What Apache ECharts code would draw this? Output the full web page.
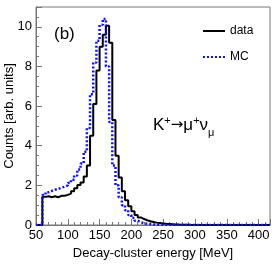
<!DOCTYPE html>
<html><head><meta charset="utf-8">
<script src="https://cdn.jsdelivr.net/npm/echarts@6/dist/echarts.min.js"></script>
<style>html,body{margin:0;padding:0;background:#fff}#c{width:279px;height:265px}</style>
</head><body><div id="c"></div>
<script>
// Histogram bins: lower edges start at 50 MeV, width 5 MeV
const binStart = 50;
const binWidth = 5;
const dataValues = [0,0,1.42,1.45,1.40,1.45,1.40,1.47,1.48,1.52,1.58,1.70,1.85,2.02,2.15,2.45,3.0,4.5,6.1,7.8,9.0,9.6,10.05,9.2,5.3,3.5,2.4,1.7,1.25,0.95,0.7,0.5,0.38,0.3,0.24,0.19,0.15,0.12,0.1,0.08,0.06,0.05,0.04,0.03,0.02,0.015,0.01,0.01,0.005,0.005];
const mcValues = [0,0,1.52,1.65,1.72,1.78,1.82,1.88,1.93,2.0,2.12,2.28,2.5,2.8,3.1,3.7,4.9,6.6,8.2,9.3,10.1,10.4,8.0,5.2,3.0,2.0,1.4,1.0,0.75,0.5,0.35,0.22,0.14,0.09,0.06,0.04,0.03,0.02,0.015,0.01,0.005,0,0,0,0,0,0,0,0,0];
const xMin = 50, xMax = 418, xStep = 50;
const yMin = 0, yMax = 11, yStep = 2;
const seriesNames = ['data','MC'];
const yTitle = 'Counts [arb. units]';

function toPairs(vals){
  const out = vals.map((v,i)=>[binStart + i*binWidth, v]);
  out.push([binStart + vals.length*binWidth, 0]);
  out.push([xMax, 0]);
  return out;
}
const FONT = 'Liberation Sans, Arial, sans-serif';
const chart = echarts.init(document.getElementById('c'), null, {renderer:'canvas'});
chart.setOption({
  animation:false,
  grid:{left:36,right:9,top:7,bottom:40,show:true,borderColor:'#777',borderWidth:1,containLabel:false,outerBoundsMode:'none'},
  legend:{
    orient:'vertical', left:197, top:20, itemWidth:22, itemHeight:14, itemGap:14,
    textStyle:{fontFamily:FONT,fontSize:12,color:'#000'},
    itemStyle:{opacity:0},
    data:seriesNames
  },
  xAxis:{
    type:'value', min:xMin, max:xMax, interval:xStep,
    name:'Decay-cluster energy [MeV]', nameLocation:'middle', nameGap:17,
    nameTextStyle:{fontFamily:FONT,fontSize:13,color:'#000'},
    axisLine:{lineStyle:{color:'#777'}},
    axisTick:{inside:true,length:6,lineStyle:{color:'#777'}},
    minorTick:{show:true,splitNumber:5,length:3,lineStyle:{color:'#777'}},
    axisLabel:{fontFamily:FONT,fontSize:13,color:'#000',margin:4,showMaxLabel:false},
    splitLine:{show:false}
  },
  yAxis:{
    type:'value', min:yMin, max:yMax, interval:yStep,
    axisLine:{show:true,lineStyle:{color:'#777'}},
    axisTick:{inside:true,length:6,lineStyle:{color:'#777'}},
    minorTick:{show:true,splitNumber:4,length:3,lineStyle:{color:'#777'}},
    axisLabel:{fontFamily:FONT,fontSize:13,color:'#000',margin:4,showMaxLabel:false},
    splitLine:{show:false}
  },
  graphic:[
    {type:'text',x:9,y:116,rotation:Math.PI/2,style:{text:yTitle,font:'13px Liberation Sans, Arial, sans-serif',fill:'#000',align:'center',verticalAlign:'middle'}},
    {type:'text',left:54,top:26,style:{text:'(b)',font:'17px Liberation Sans, Arial, sans-serif',fill:'#000'}},
    {type:'text',left:153,top:115,style:{
      text:'{n|K}{s|+}{a|→}{n|μ}{s|+}{n|ν}{b|μ}',
      rich:{
        n:{fontFamily:FONT,fontSize:17,color:'#000',verticalAlign:'bottom'},
        a:{fontFamily:'DejaVu Sans',fontSize:15,color:'#000',verticalAlign:'bottom',padding:[0,0,1,0]},
        s:{fontFamily:FONT,fontSize:11,color:'#000',padding:[0,0,8,0],verticalAlign:'bottom'},
        b:{fontFamily:FONT,fontSize:11,color:'#000',padding:[0,0,-4,0],verticalAlign:'bottom'}
      }}}
  ],
  series:[
    {name:'data',type:'line',step:'end',data:toPairs(dataValues),showSymbol:false,symbol:'none',
     lineStyle:{color:'#000',width:2},itemStyle:{color:'#000'},z:3},
    {name:'MC',type:'line',step:'end',data:toPairs(mcValues),showSymbol:false,symbol:'none',
     lineStyle:{color:'#1010ff',width:2.5,type:[2,2]},itemStyle:{color:'#1010ff'},z:4}
  ]
});
</script></body></html>
